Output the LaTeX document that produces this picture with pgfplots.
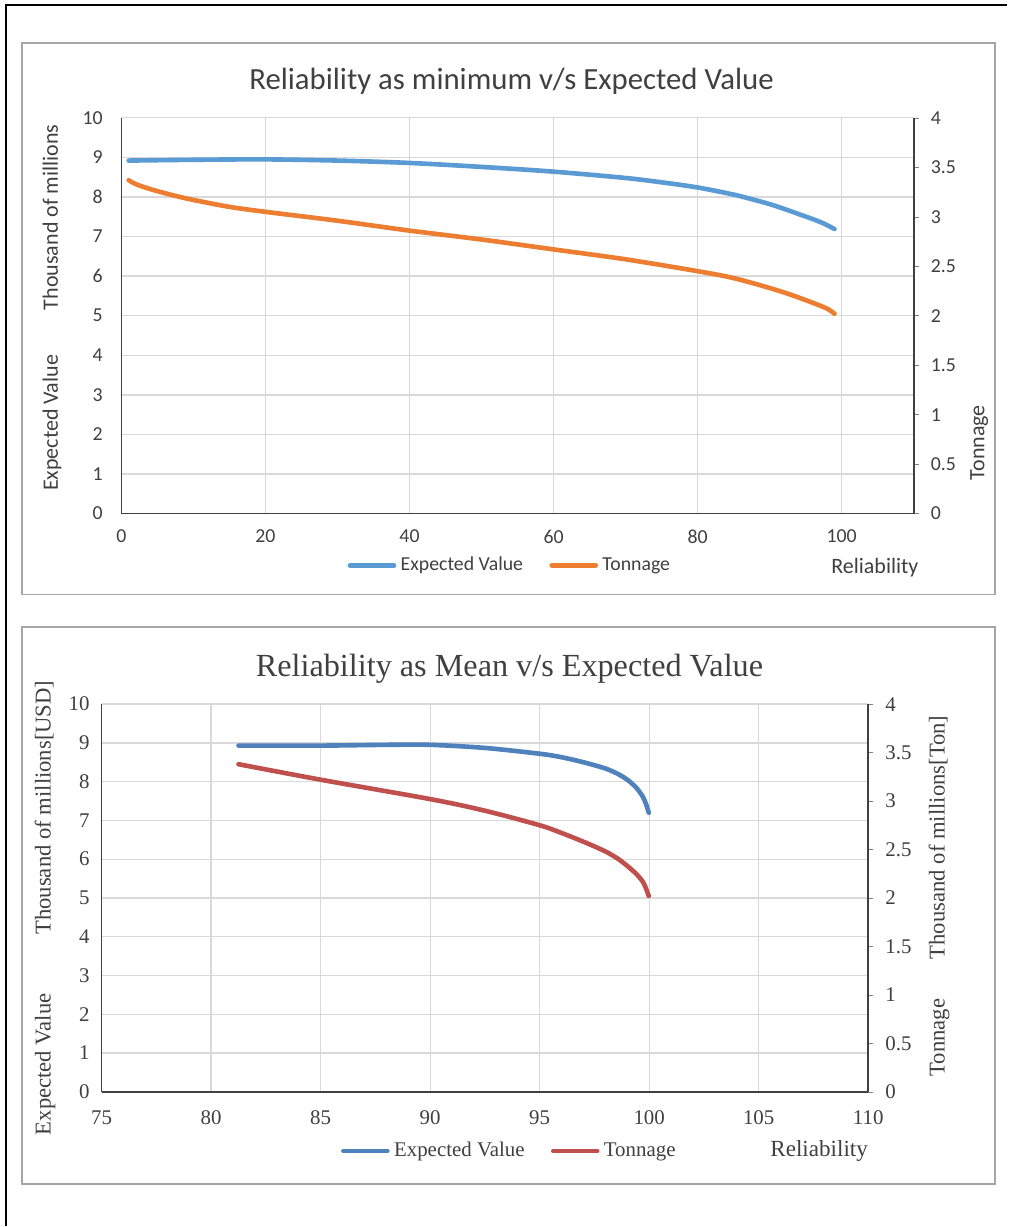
\documentclass[border=0pt]{standalone}
\usepackage{fontspec}
\setmainfont{Carlito}
\newfontfamily\calf{Carlito}
\newfontfamily\serf{Liberation Serif}
\usepackage{pgfplots}
\pgfplotsset{compat=1.18}
\definecolor{txt}{HTML}{404040}
\definecolor{gridc}{HTML}{D9D9D9}
\definecolor{axl}{HTML}{404040}
\definecolor{boxc}{HTML}{A6A6A6}
\definecolor{evA}{HTML}{5B9BD5}
\definecolor{tnA}{HTML}{ED7D31}
\definecolor{evB}{HTML}{4F81BD}
\definecolor{tnB}{HTML}{C0504D}

\pgfplotstableread{
x y
1 8.92
10 8.94
20 8.95
30 8.92
40 8.86
50 8.76
60 8.64
70 8.48
75 8.37
80 8.24
85 8.06
88 7.92
90 7.82
92 7.70
94 7.57
96 7.44
97.5 7.33
99 7.19
}\evone
\pgfplotstableread{
x y
1 3.37
2 3.33
4 3.28
7 3.22
10 3.17
15 3.10
20 3.05
30 2.96
40 2.86
50 2.77
60 2.67
70 2.57
80 2.45
85 2.38
90 2.28
93 2.21
96 2.13
98 2.07
99 2.02
}\tnone
\pgfplotstableread{
x y
81.25 8.93
85 8.93
88 8.95
90 8.95
92.5 8.87
95 8.72
96 8.63
97 8.50
98 8.34
98.6 8.19
99.0 8.05
99.4 7.85
99.7 7.62
99.85 7.43
99.98 7.20
}\evtwo
\pgfplotstableread{
x y
81.25 3.38
85 3.22
90 3.02
92.5 2.90
95 2.75
96 2.67
97 2.58
98 2.48
98.6 2.40
99.0 2.33
99.4 2.25
99.7 2.17
99.85 2.10
99.98 2.02
}\tntwo

\pgfplotsset{
  common/.style={
    scale only axis,
    anchor=south west,
    /pgf/number format/assume math mode=true,
    tick label style={color=txt},
    axis line style={axl, line width=0.8pt},
    major grid style={gridc, line width=0.6pt},
    legend image code/.code={\draw[line width=2.1pt, line cap=round] (0pt,0pt) -- (20pt,0pt);},
  },
}

\begin{document}
\begin{tikzpicture}
\begin{scope}[x=0.4545pt,y=0.4545pt]
\fill[white] (0,0) rectangle (1008,1227);
\draw[black, line width=0.9pt] (6,0) -- (6,1222) -- (1008,1222);
\draw[boxc, line width=0.9pt] (22,632) rectangle (996,1184);
\draw[boxc, line width=0.9pt] (22,42) rectangle (996,599);
\end{scope}

% ---------------- Chart 1 ----------------
\begin{axis}[common,
  at={(55.22pt,324.06pt)}, width=360.4pt, height=180pt,
  xmin=0, xmax=110, ymin=0, ymax=10,
  xtick={0,20,...,100}, ytick={0,1,...,10},
  axis x line*=bottom, axis y line*=left,
  major tick length=0pt,
  grid=major,
  tick label style={font=\calf\fontsize{9}{10.8}\selectfont},
  yticklabel style={xshift=-5pt},
  xticklabel style={yshift=-4pt},
  title={Reliability as minimum v/s Expected Value},
  title style={at={(axis description cs:0.4924,1.058)}, anchor=center, font=\calf\fontsize{14}{16}\selectfont, color=txt},
  ylabel={Expected Value\hspace{20.5pt}Thousand of millions},
  ylabel style={at={(axis description cs:-0.0876,0.520)}, anchor=center, font=\calf\fontsize{10}{12}\selectfont, color=txt},
  xlabel={Reliability},
  xlabel style={at={(axis description cs:0.951,-0.136)}, anchor=center, font=\calf\fontsize{10}{12}\selectfont, color=txt},
  legend style={at={(axis description cs:0.4918,-0.131)}, anchor=center, draw=none, fill=none,
    legend columns=2, font=\calf\fontsize{9}{10.8}\selectfont, text=txt,
    /tikz/every even column/.append style={column sep=10pt},
    legend cell align=left, inner sep=0pt},
]
\addplot[evA, line width=2.1pt, line cap=round, smooth] table[x=x,y=y] {\evone};
\addlegendentry{Expected Value}
\addlegendimage{tnA, line width=2.1pt}
\addlegendentry{Tonnage}
\end{axis}
\begin{axis}[common,
  at={(55.22pt,324.06pt)}, width=360.4pt, height=180pt,
  xmin=0, xmax=110, ymin=0, ymax=4,
  ytick={0,0.5,...,4},
  axis x line=none, axis y line*=right,
  tick align=outside, major tick length=2.3pt,
  tick label style={font=\calf\fontsize{9}{10.8}\selectfont},
  yticklabel style={xshift=2pt},
  ylabel={Tonnage},
  ylabel style={at={(axis description cs:1.0826,0.179)}, anchor=center, font=\calf\fontsize{10}{12}\selectfont, color=txt},
]
\addplot[tnA, line width=2.1pt, line cap=round, smooth] table[x=x,y=y] {\tnone};
\end{axis}

% ---------------- Chart 2 ----------------
\begin{axis}[common,
  at={(46.22pt,61.08pt)}, width=348.7pt, height=176.3pt,
  xmin=75, xmax=110, ymin=0, ymax=10,
  xtick={75,80,...,110}, ytick={0,1,...,10},
  axis x line*=bottom, axis y line*=left,
  major tick length=0pt,
  grid=major,
  tick label style={font=\serf\fontsize{9.5}{11}\selectfont},
  yticklabel style={xshift=-2pt},
  xticklabel style={yshift=-5pt},
  title={Reliability as Mean v/s Expected Value},
  title style={at={(axis description cs:0.532,1.058)}, anchor=center, font=\serf\fontsize{14.65}{17}\selectfont, color=txt},
  ylabel={Expected Value\hspace{26.8pt}Thousand of millions[USD]},
  ylabel style={at={(axis description cs:-0.0739,0.4745)}, anchor=center, font=\serf\fontsize{10.3}{12}\selectfont, color=txt},
  xlabel={Reliability},
  xlabel style={at={(axis description cs:0.936,-0.153)}, anchor=center, font=\serf\fontsize{10.5}{12}\selectfont, color=txt},
  legend style={at={(axis description cs:0.5334,-0.153)}, anchor=center, draw=none, fill=none,
    legend columns=2, font=\serf\fontsize{9.5}{11}\selectfont, text=txt,
    /tikz/every even column/.append style={column sep=10pt},
    legend cell align=left, inner sep=0pt},
]
\addplot[evB, line width=2.1pt, line cap=round, smooth] table[x=x,y=y] {\evtwo};
\addlegendentry{Expected Value}
\addlegendimage{tnB, line width=2.1pt}
\addlegendentry{Tonnage}
\end{axis}
\begin{axis}[common,
  at={(46.22pt,61.08pt)}, width=348.7pt, height=176.3pt,
  xmin=75, xmax=110, ymin=0, ymax=4,
  ytick={0,0.5,...,4},
  axis x line=none, axis y line*=right,
  tick align=outside, major tick length=2.3pt,
  tick label style={font=\serf\fontsize{9.5}{11}\selectfont},
  yticklabel style={xshift=2pt},
  ylabel={Tonnage\hspace{18pt}Thousand of millions[Ton]},
  ylabel style={at={(axis description cs:1.0925,0.505)}, anchor=center, font=\serf\fontsize{10.3}{12}\selectfont, color=txt},
]
\addplot[tnB, line width=2.1pt, line cap=round, smooth] table[x=x,y=y] {\tntwo};
\end{axis}
\end{tikzpicture}
\end{document}
